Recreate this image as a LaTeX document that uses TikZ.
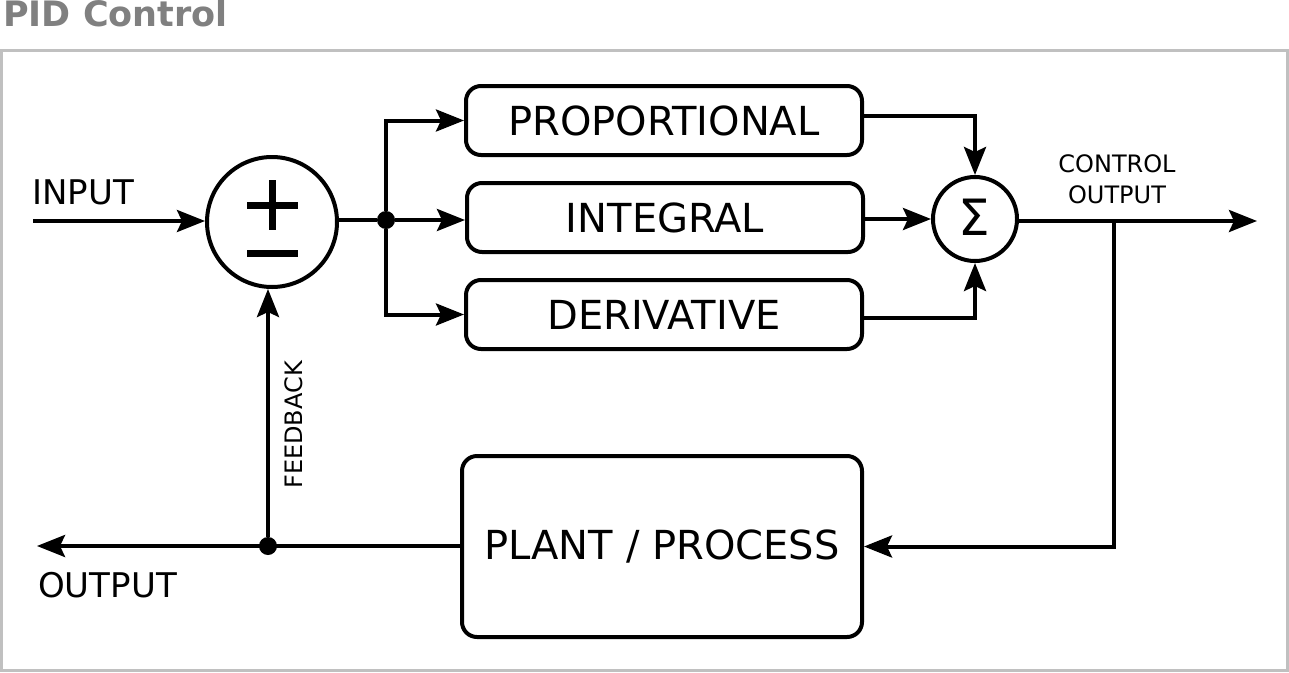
\documentclass[tikz,border=0pt]{standalone}
\usepackage{fontspec}
\setmainfont{DejaVu Sans}
\usetikzlibrary{arrows.meta}
\definecolor{titlegray}{HTML}{808080}
\definecolor{framegray}{HTML}{C0C0C0}
\begin{document}
\begin{tikzpicture}[x=1pt,y=-1pt,
  ln/.style={line width=4pt},
  arr/.style={ln,-{Stealth[length=28pt,width=22pt,inset=5pt]}},
  blk/.style={draw,ln,rounded corners=15pt,minimum width=396pt,minimum height=69pt,font=\fontsize{40}{48}\selectfont,inner sep=0pt},
  jdot/.style={circle,fill,minimum size=18pt,inner sep=0pt},
  lbl/.style={font=\fontsize{34}{40}\selectfont,inner sep=0pt},
  small/.style={font=\fontsize{24}{31}\selectfont,inner sep=0pt,align=center},
  bar/.style={line width=7pt},
]
\useasboundingbox (0,0) rectangle (1289,672);
\draw[framegray,line width=3pt] (1.5,50.5) rectangle (1287.5,670.5);
\node[anchor=base west,font=\bfseries\fontsize{35}{40}\selectfont,text=titlegray,inner sep=0pt] (title) at (3,26) {PID Control};

\node[draw,ln,circle,minimum size=130pt,inner sep=0pt] (pm) at (272,222) {};
\draw[bar] (247,205) -- (298,205);
\draw[bar] (272,180) -- (272,230);
\draw[bar] (247,253) -- (298,253);
\node[draw,ln,circle,minimum size=84pt,inner sep=0pt] (sum) at (975,219) {};
\node[font=\fontsize{50}{60}\selectfont,inner sep=0pt] (sumsym) at (974,217) {Σ};

\node[blk] (prop) at (664,120.5) {PROPORTIONAL};
\node[blk] (integ) at (665,217.5) {INTEGRAL};
\node[blk] (deriv) at (664,314.5) {DERIVATIVE};
\node[blk,minimum width=400pt,minimum height=181pt] (plant) at (662,546.5) {PLANT / PROCESS};

\node[jdot] (j1) at (386,220) {};
\node[jdot] (j2) at (268,546) {};
\coordinate (in) at (33,221);
\coordinate (co) at (1257,221);
\coordinate (tap) at (1114,221);
\coordinate (out) at (37,546);

\draw[arr] (in) -- (in -| pm.west);
\draw[ln] (pm.east |- j1) -- (j1);
\draw[arr] (j1) |- (prop.west);
\draw[arr] (j1) -- (j1 -| integ.west);
\draw[arr] (j1) |- (deriv.west);
\draw[arr] ([yshift=4.5pt]prop.east) -| (sum.north);
\draw[arr] (integ.east |- sum.west) -- (sum.west);
\draw[arr] ([yshift=-3.5pt]deriv.east) -| (sum.south);
\draw[arr] (sum.east |- co) -- (co);
\draw[arr] (tap) |- (plant.east);
\draw[arr] (plant.west |- j2) -- (out);
\draw[arr] (j2) -- (j2 |- pm.south);

\node[lbl,anchor=west] (inl) at (32,192) {INPUT};
\node[lbl,anchor=west] (outl) at (38,585) {OUTPUT};
\node[small] (col) at (1117,179) {CONTROL\\OUTPUT};
\node[small,rotate=90] (fb) at (294,425) {FEEDBACK};
\end{tikzpicture}
\end{document}
